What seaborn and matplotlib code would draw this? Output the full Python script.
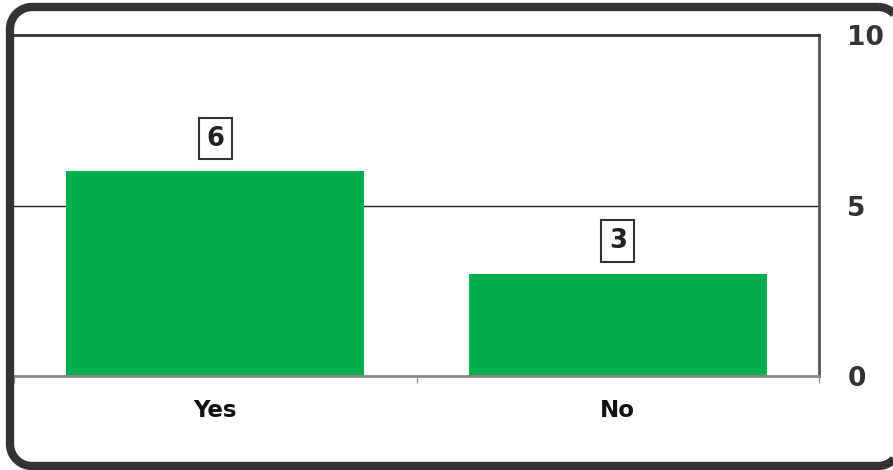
import matplotlib
matplotlib.use("Agg")
import matplotlib.pyplot as plt
import seaborn as sns
import pandas as pd
import numpy as np
from matplotlib.patches import Polygon

categories = ["Yes", "No"]
values = [6, 3]
yticks = [0, 5, 10]

sns.set_theme(style="white")
plt.rcParams['font.family'] = ['DejaVu Sans']

W, H = 893, 470
fig = plt.figure(figsize=(W / 100, H / 100), dpi=100)
fig.patch.set_facecolor("white")
ax = fig.add_axes([14 / W, (H - 376) / H, (819 - 14) / W, (376 - 35) / H])

df = pd.DataFrame({"cat": categories, "val": values})
sns.barplot(data=df, x="cat", y="val", color="#00AD4F", saturation=1, width=0.74,
            linewidth=0, ax=ax)

ax.set_ylim(0, 10)
ax.set_xlim(-0.5, 1.5)
ax.set_xlabel("")
ax.set_ylabel("")
ax.yaxis.tick_right()
ax.set_yticks(yticks)
ax.set_yticklabels([str(t) for t in yticks], fontsize=19, fontweight="bold", color="#333333")
ax.tick_params(axis="y", length=0, pad=20.5)
ax.tick_params(axis="x", which="major", length=0, pad=16.5)
for lbl in ax.get_xticklabels():
    lbl.set_fontsize(16.5)
    lbl.set_fontweight("bold")
    lbl.set_color("#111111")
ax.set_xticks([-0.5, 0.5, 1.5], minor=True)
ax.tick_params(axis="x", which="minor", length=5, width=1, color="#999999", bottom=True)

ax.axhline(5, color="#222222", lw=1, zorder=0)

ax.spines["left"].set_visible(False)
ax.spines["top"].set_color("#333333")
ax.spines["top"].set_linewidth(2)
ax.spines["right"].set_color("#555555")
ax.spines["right"].set_linewidth(2)
ax.spines["bottom"].set_color("#888888")
ax.spines["bottom"].set_linewidth(2)

for p, v in zip(ax.patches, values):
    ax.annotate(str(v), (p.get_x() + p.get_width() / 2, p.get_height()),
                xytext=(0, 23.5), textcoords="offset points", ha="center", va="center",
                fontsize=18.5, fontweight="bold", color="#222222",
                bbox=dict(boxstyle="square,pad=0.3", fc="white", ec="#333333", lw=1.5))

# overlay axes in pixel units for the rounded outer frame
ov = fig.add_axes([0, 0, 1, 1], zorder=5)
ov.set_xlim(0, W)
ov.set_ylim(H, 0)
ov.axis("off")
ov.patch.set_alpha(0)

x0, x1, y0, y1, r = 10, 900, 7, 466, 22
pts = []
for cx, cy, a0 in [(x1 - r, y0 + r, -90), (x1 - r, y1 - r, 0), (x0 + r, y1 - r, 90), (x0 + r, y0 + r, 180)]:
    ang = np.radians(np.linspace(a0, a0 + 90, 20))
    pts.extend(zip(cx + r * np.cos(ang), cy + r * np.sin(ang)))
frame = Polygon(pts, closed=True, fill=False, ec="#333333", lw=6, clip_on=False)
ov.add_patch(frame)

fig.savefig("out.png", dpi=100)
